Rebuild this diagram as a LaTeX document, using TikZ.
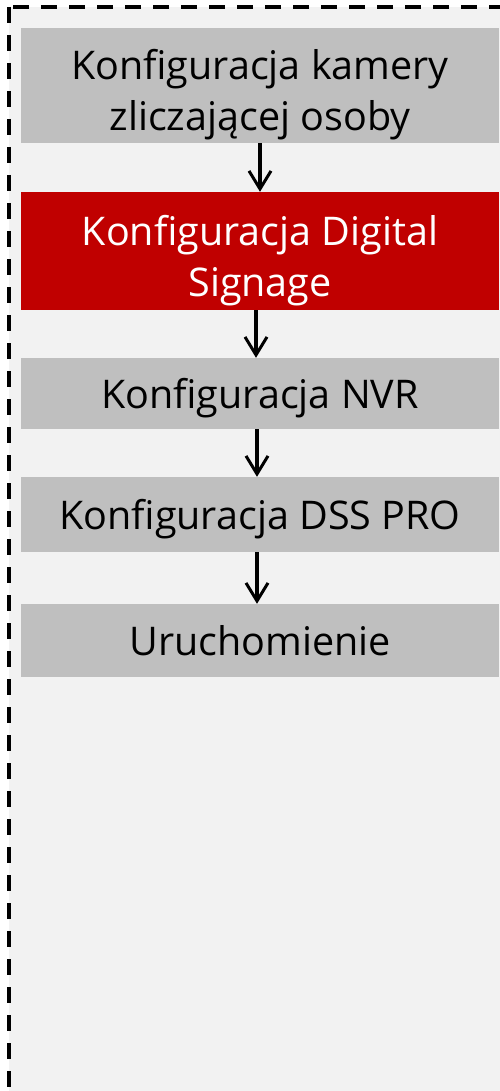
\documentclass[tikz,border=0pt]{standalone}
\usepackage{fontspec}
\setmainfont{Open Sans}
\usetikzlibrary{arrows.meta}

\definecolor{framefill}{HTML}{F2F2F2}
\definecolor{boxgrey}{HTML}{BFBFBF}
\definecolor{boxred}{HTML}{C00000}

\newcommand{\toppad}{\rule{0pt}{40pt}}

\tikzset{
    stepbox/.style={fill=boxgrey, minimum width=478pt, inner sep=0pt, align=center,
        text depth=0pt, font=\fontsize{39.5}{51}\selectfont},
    flow/.style={line width=3.5pt, -{Straight Barb[length=18pt, width=22pt, line width=3pt]}}
}

\begin{document}
\begin{tikzpicture}[x=1pt, y=-1pt]
    \clip (0,0) rectangle (500,1091);

    % Dashed frame around the steps
    \draw[fill=framefill, line width=4.5pt, dash pattern=on 16pt off 12pt] (9,7) rectangle (530,1120);

    % Draw the steps
    \node[stepbox, minimum height=115pt] (s1) at (260, 85.5) {\toppad Konfiguracja kamery\\zliczającej osoby};
    \node[stepbox, minimum height=118pt, fill=boxred, text=white] (s2) at (260, 251) {\toppad Konfiguracja Digital\\Signage};
    \node[stepbox, minimum height=71pt] (s3) at (260, 393.5) {Konfiguracja NVR};
    \node[stepbox, minimum height=75pt] (s4) at (260, 514.5) {Konfiguracja DSS PRO};
    \node[stepbox, minimum height=73pt] (s5) at (260, 640.5) {Uruchomienie};

    % Arrows between steps
    \draw[flow] (s1) -- (s2);
    \draw[flow] ([xshift=-4pt]s2.south) -- ([xshift=-4pt]s3.north);
    \draw[flow] ([xshift=-3pt]s3.south) -- ([xshift=-3pt]s4.north);
    \draw[flow] ([xshift=-3pt]s4.south) -- ([xshift=-3pt]s5.north);
\end{tikzpicture}
\end{document}
